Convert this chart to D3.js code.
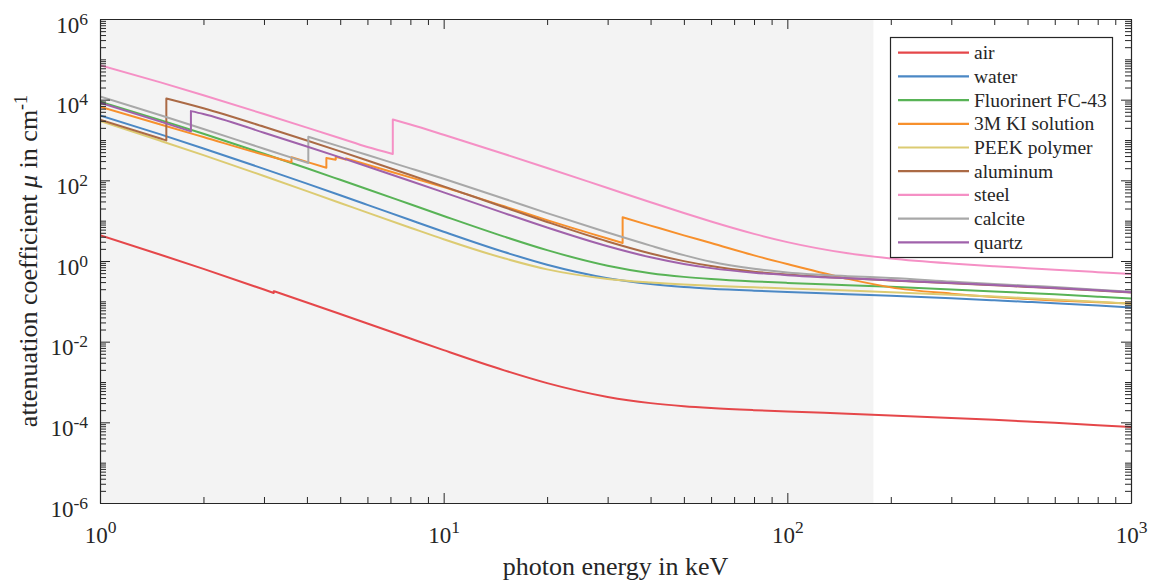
<!DOCTYPE html>
<html>
<head>
<meta charset="utf-8">
<script src="https://cdn.jsdelivr.net/npm/d3@7"></script>
<style>
  body { margin: 0; background: #fff; }
  svg text { font-family: "Liberation Serif", "Times New Roman", serif; fill: #262626; }
</style>
</head>
<body>
<svg id="chart" width="1151" height="583"></svg>
<script>
// Photon energy grid (keV) shared by all materials
const energyKeV = [1, 1.5, 2, 3, 4, 5, 6, 8, 10, 15, 20, 30, 40, 50, 60, 80, 100, 150, 200, 300, 400, 500, 600, 800, 1000];

// Linear attenuation coefficients (1/cm) on the grid above
const muAir = [4.345, 1.435, 0.6361, 0.1958, 0.09385, 0.04853, 0.02821, 0.01195, 0.00617, 0.001945, 9.374e-4, 4.263e-4, 2.994e-4, 2.506e-4, 2.259e-4, 2.003e-4, 1.857e-4, 1.634e-4, 1.486e-4, 1.286e-4, 1.151e-4, 1.050e-4, 9.706e-5, 8.524e-5, 7.661e-5];
const muWater = [4078, 1376, 617.3, 192.9, 82.78, 42.58, 24.64, 10.37, 5.329, 1.673, 0.8096, 0.3756, 0.2683, 0.2269, 0.2059, 0.1837, 0.1707, 0.1505, 0.137, 0.1186, 0.1061, 0.09687, 0.08956, 0.07865, 0.07072];
const muFluorinert = [8924, 3113, 1428, 456.9, 199.1, 103.1, 60.08, 25.48, 13.1, 4.03, 1.861, 0.7645, 0.4992, 0.404, 0.3575, 0.3114, 0.2868, 0.2511, 0.2284, 0.1974, 0.1765, 0.1609, 0.149, 0.1307, 0.1175];
const muKI = [6700, 2431, 1184, 429, 287, 357, 243, 118.4, 67.8, 22.7, 10.3, 3.6, 7.55, 4.32, 2.79, 1.38, 0.84, 0.36, 0.222, 0.155, 0.128, 0.114, 0.105, 0.095, 0.088];
const muPEEK = [2950, 954, 422, 128, 54.0, 27.5, 15.8, 6.7, 3.47, 1.166, 0.62, 0.36, 0.293, 0.261, 0.2432, 0.2222, 0.2086, 0.1853, 0.1691, 0.1465, 0.1313, 0.1197, 0.1107, 0.0972, 0.0874];
const muAluminum = [3198, 1085.5, 6108, 2127, 973.0, 522.0, 311.2, 135.8, 70.79, 21.47, 9.287, 3.044, 1.534, 0.9935, 0.7498, 0.5447, 0.4599, 0.3719, 0.3301, 0.2812, 0.2504, 0.2279, 0.2106, 0.1846, 0.1659];
const muSteel = [71770, 26852, 12845, 4405, 2028, 1104, 670.2, 2414, 1348, 450.9, 202.9, 64.59, 28.67, 15.47, 9.52, 4.702, 2.936, 1.552, 1.153, 0.8682, 0.7426, 0.6647, 0.6086, 0.5292, 0.4736];
const muCalcite = [11965, 4100, 1881, 607, 275, 686, 423, 198, 109, 35.0, 15.4, 5.08, 2.41, 1.40, 0.955, 0.64, 0.52, 0.42, 0.38, 0.31, 0.27, 0.245, 0.226, 0.195, 0.172];
const muQuartz = [8424, 2850, 4420, 1518, 692.4, 371, 221.1, 96.5, 50.4, 15.4, 6.75, 2.312, 1.233, 0.844, 0.666, 0.513, 0.446, 0.372, 0.333, 0.285, 0.254, 0.231, 0.214, 0.188, 0.1685];

// Absorption edges: [energy keV, mu below, mu above]
const edgesAir = [[3.2029, 0.1615, 0.1789]];
const edgesKI = [[3.608, 280, 373], [4.557, 206, 360], [4.852, 325, 385], [5.188, 326, 350], [33.17, 2.8, 12.1]];
const edgesAluminum = [[1.5596, 977.3, 10680]];
const edgesSteel = [[7.112, 450.9, 3220]];
const edgesCalcite = [[4.038, 268, 1208]];
const edgesQuartz = [[1.839, 1635, 5205]];

const materialNames = ["air", "water", "Fluorinert FC-43", "3M KI solution", "PEEK polymer", "aluminum", "steel", "calcite", "quartz"];
const materialColors = ["#e5474a", "#4b88c5", "#58b356", "#f7902c", "#dccb72", "#ab6a45", "#f590c5", "#a8a8a8", "#a062ab"];
const materialMu = [muAir, muWater, muFluorinert, muKI, muPEEK, muAluminum, muSteel, muCalcite, muQuartz];
const materialEdges = [edgesAir, [], [], edgesKI, [], edgesAluminum, edgesSteel, edgesCalcite, edgesQuartz];

// Shaded energy band and tick labels
const shadedBand = [1, 178];
const xMajor = [1, 10, 100, 1000];
const xMajorExp = ["0", "1", "2", "3"];
const yMajor = [1e-6, 1e-4, 1e-2, 1, 1e2, 1e4, 1e6];
const yMajorExp = ["-6", "-4", "-2", "0", "2", "4", "6"];

const svg = d3.select("#chart");
const L = 100, R = 1131, T = 19, B = 503;
const ink = "#262626";

const x = d3.scaleLog().domain([1, 1000]).range([L, R]);
const y = d3.scaleLog().domain([1e-6, 1e6]).range([B, T]);

svg.append("rect").attr("x", 0).attr("y", 0).attr("width", 1151).attr("height", 583).attr("fill", "#fff");
svg.append("rect")
  .attr("x", x(shadedBand[0])).attr("y", T)
  .attr("width", x(shadedBand[1]) - x(shadedBand[0])).attr("height", B - T)
  .attr("fill", "#f3f3f3");

svg.append("clipPath").attr("id", "plotclip")
  .append("rect").attr("x", L).attr("y", T).attr("width", R - L).attr("height", B - T);

// Split a series into continuous pieces at its edges
function segmentsOf(values, edges) {
  const sorted = edges.slice().sort((a, b) => a[0] - b[0]);
  const segs = [];
  let cur = [];
  let ei = 0;
  energyKeV.forEach((e, i) => {
    while (ei < sorted.length && sorted[ei][0] < e) {
      cur.push({ e: sorted[ei][0], mu: sorted[ei][1] });
      segs.push(cur);
      cur = [{ e: sorted[ei][0], mu: sorted[ei][2] }];
      ei++;
    }
    cur.push({ e, mu: values[i] });
  });
  segs.push(cur);
  return segs;
}

const line = d3.line().x(d => x(d.e)).y(d => y(d.mu)).curve(d3.curveMonotoneX);

const curves = svg.append("g").attr("clip-path", "url(#plotclip)");
materialNames.forEach((name, k) => {
  const segs = segmentsOf(materialMu[k], materialEdges[k]);
  const d = segs.map((s, i) => {
    const p = line(s);
    return i ? "L" + p.slice(1) : p;
  }).join("");
  curves.append("path")
    .attr("d", d)
    .attr("fill", "none")
    .attr("stroke", materialColors[k])
    .attr("stroke-width", 2)
    .attr("stroke-linejoin", "round");
});

// Minor tick values
const xMinor = [];
for (let k = 0; k < 3; k++) for (let m = 2; m <= 9; m++) xMinor.push(m * Math.pow(10, k));
const yMinor = [];
for (let k = -6; k < 6; k++) for (let m = 1; m <= 9; m++) {
  if (m === 1 && k % 2 === 0) continue;
  yMinor.push(m * Math.pow(10, k));
}

function styleAxis(g) {
  g.attr("color", ink).attr("font-family", "Liberation Serif, serif");
  g.selectAll(".domain").attr("stroke-width", 1.2);
  g.selectAll(".tick line").attr("stroke-width", 1);
}

// Minor ticks on all four sides
[[d3.axisBottom(x), `translate(0,${B})`, xMinor], [d3.axisTop(x), `translate(0,${T})`, xMinor],
 [d3.axisLeft(y), `translate(${L},0)`, yMinor], [d3.axisRight(y), `translate(${R},0)`, yMinor]]
  .forEach(([ax, tr, vals]) => {
    svg.append("g").attr("transform", tr)
      .call(ax.tickValues(vals).tickSize(-6).tickSizeOuter(0).tickFormat(""))
      .call(styleAxis)
      .call(g => g.select(".domain").remove());
  });

// Major ticks, box lines and labels
const supSize = 17.5;
const gx = svg.append("g").attr("transform", `translate(0,${B})`)
  .call(d3.axisBottom(x).tickValues(xMajor).tickSize(-10).tickSizeOuter(0).tickPadding(0))
  .call(styleAxis);
gx.selectAll(".tick text").each(function (d, i) {
  const t = d3.select(this).text(null).attr("y", 40).attr("dy", 0).attr("font-size", 23).attr("fill", ink);
  t.append("tspan").text("10");
  t.append("tspan").attr("dy", -10).attr("font-size", supSize).text(xMajorExp[i]);
});

svg.append("g").attr("transform", `translate(0,${T})`)
  .call(d3.axisTop(x).tickValues(xMajor).tickSize(-10).tickSizeOuter(0).tickFormat(""))
  .call(styleAxis);

const gy = svg.append("g").attr("transform", `translate(${L},0)`)
  .call(d3.axisLeft(y).tickValues(yMajor).tickSize(-10).tickSizeOuter(0).tickPadding(12))
  .call(styleAxis);
gy.selectAll(".tick text").each(function (d, i) {
  const t = d3.select(this).text(null).attr("dy", 13).attr("font-size", 23).attr("fill", ink);
  t.append("tspan").text("10");
  t.append("tspan").attr("dy", -8).attr("font-size", supSize).text(yMajorExp[i]);
});

svg.append("g").attr("transform", `translate(${R},0)`)
  .call(d3.axisRight(y).tickValues(yMajor).tickSize(-10).tickSizeOuter(0).tickFormat(""))
  .call(styleAxis);

// Axis titles
svg.append("text")
  .attr("x", (L + R) / 2).attr("y", 575)
  .attr("text-anchor", "middle").attr("font-size", 26)
  .text("photon energy in keV");

const ylab = svg.append("text")
  .attr("transform", `translate(37,${(T + B) / 2}) rotate(-90)`)
  .attr("text-anchor", "middle").attr("font-size", 26);
ylab.append("tspan").text("attenuation coefficient ");
ylab.append("tspan").attr("font-style", "italic").text("μ");
ylab.append("tspan").text(" in cm");
ylab.append("tspan").attr("dy", -10).attr("font-size", 18).text("-1");

// Legend
const lg = svg.append("g");
lg.append("rect").attr("x", 890.5).attr("y", 37.5).attr("width", 222).attr("height", 220)
  .attr("fill", "#fff").attr("stroke", ink).attr("stroke-width", 1.2);
materialNames.forEach((name, k) => {
  const yy = 52.7 + k * 23.7;
  lg.append("line").attr("x1", 898).attr("x2", 969).attr("y1", yy).attr("y2", yy)
    .attr("stroke", materialColors[k]).attr("stroke-width", 2.2);
  lg.append("text").attr("x", 974).attr("y", yy + 6.5).attr("font-size", 19.5).text(name);
});
</script>
</body>
</html>
